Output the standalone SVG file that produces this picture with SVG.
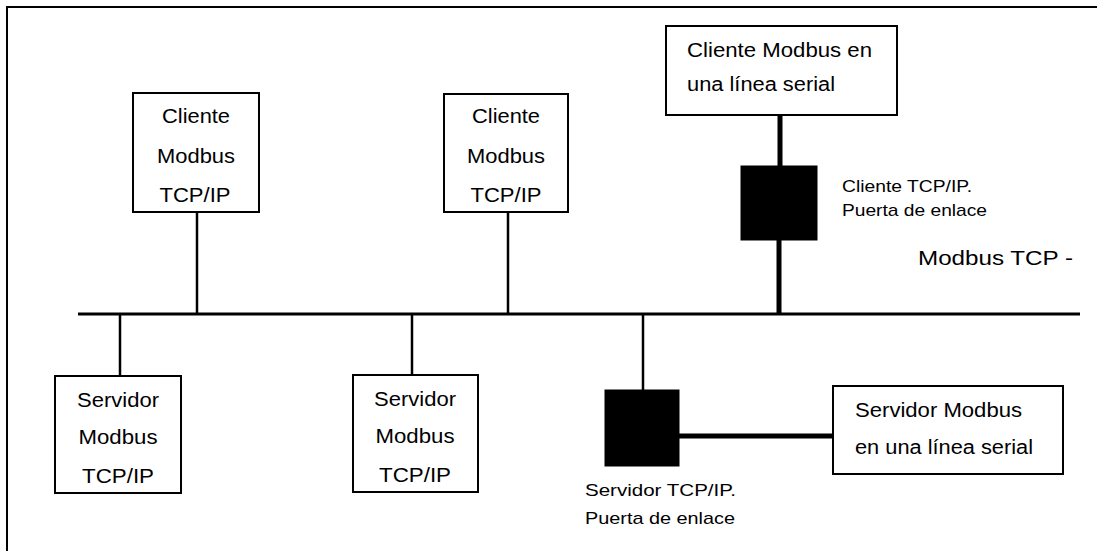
<svg xmlns="http://www.w3.org/2000/svg" width="1097" height="551" viewBox="0 0 1097 551">
  <defs>
    <style>
      .frame { stroke: #000; stroke-width: 2; fill: none; }
      .box { fill: #fff; stroke: #000; stroke-width: 2; }
      .gw { fill: #000; stroke: #000; stroke-width: 1; }
      .thin { stroke: #000; stroke-width: 2.5; fill: none; }
      .thick { stroke: #000; stroke-width: 5; fill: none; }
      .bus { stroke: #000; stroke-width: 3; fill: none; }
      text { font-family: "Liberation Sans", Arial, sans-serif; fill: #000; }
      .t { font-size: 19.5px; }
      .s { font-size: 17px; }
      .c { text-anchor: middle; }
    </style>
  </defs>

  <rect x="0" y="0" width="1097" height="551" fill="#fff"/>

  <!-- page frame: top and left edges -->
  <path class="frame" d="M7,551 V7 H1097"/>

  <!-- connectors -->
  <g id="connectors">
    <line class="bus" x1="78" y1="314" x2="1080" y2="314"/>
    <line class="thin" x1="197" y1="212" x2="197" y2="314"/>
    <line class="thin" x1="508" y1="212" x2="508" y2="314"/>
    <line class="thick" x1="780" y1="115" x2="780" y2="166"/>
    <line class="thick" x1="779" y1="240" x2="779" y2="314"/>
    <line class="thin" x1="120" y1="314" x2="120" y2="376"/>
    <line class="thin" x1="412" y1="314" x2="412" y2="375"/>
    <line class="thin" x1="643" y1="314" x2="643" y2="390"/>
    <line class="thick" x1="679" y1="436" x2="833" y2="436"/>
  </g>

  <g id="bus-label">
    <text class="t" x="918" y="265" textLength="155" lengthAdjust="spacingAndGlyphs">Modbus TCP -</text>
  </g>

  <g id="client1">
    <rect class="box" x="133" y="93" width="126" height="119"/>
    <text class="t c" x="196" y="123" textLength="68" lengthAdjust="spacingAndGlyphs">Cliente</text>
    <text class="t c" x="196" y="163" textLength="78" lengthAdjust="spacingAndGlyphs">Modbus</text>
    <text class="t c" x="195" y="202" textLength="71" lengthAdjust="spacingAndGlyphs">TCP/IP</text>
  </g>

  <g id="client2">
    <rect class="box" x="444" y="94" width="124" height="118"/>
    <text class="t c" x="506" y="123" textLength="68" lengthAdjust="spacingAndGlyphs">Cliente</text>
    <text class="t c" x="506" y="163" textLength="78" lengthAdjust="spacingAndGlyphs">Modbus</text>
    <text class="t c" x="506" y="202" textLength="71" lengthAdjust="spacingAndGlyphs">TCP/IP</text>
  </g>

  <g id="serial-client">
    <rect class="box" x="666" y="26" width="231" height="89"/>
    <text class="t" x="687" y="57" textLength="185" lengthAdjust="spacingAndGlyphs">Cliente Modbus en</text>
    <text class="t" x="687" y="91" textLength="148" lengthAdjust="spacingAndGlyphs">una línea serial</text>
  </g>

  <g id="client-gateway">
    <rect class="gw" x="741" y="166" width="76" height="74"/>
    <text class="s" x="842" y="192" textLength="130" lengthAdjust="spacingAndGlyphs">Cliente TCP/IP.</text>
    <text class="s" x="842" y="216" textLength="145" lengthAdjust="spacingAndGlyphs">Puerta de enlace</text>
  </g>

  <g id="server1">
    <rect class="box" x="55" y="376" width="126" height="117"/>
    <text class="t c" x="118" y="407" textLength="82" lengthAdjust="spacingAndGlyphs">Servidor</text>
    <text class="t c" x="118" y="444" textLength="79" lengthAdjust="spacingAndGlyphs">Modbus</text>
    <text class="t c" x="118" y="483" textLength="72" lengthAdjust="spacingAndGlyphs">TCP/IP</text>
  </g>

  <g id="server2">
    <rect class="box" x="353" y="375" width="125" height="117"/>
    <text class="t c" x="415" y="406" textLength="82" lengthAdjust="spacingAndGlyphs">Servidor</text>
    <text class="t c" x="415" y="443" textLength="79" lengthAdjust="spacingAndGlyphs">Modbus</text>
    <text class="t c" x="415" y="482" textLength="72" lengthAdjust="spacingAndGlyphs">TCP/IP</text>
  </g>

  <g id="server-gateway">
    <rect class="gw" x="605" y="390" width="74" height="76"/>
    <text class="s" x="585" y="496" textLength="151" lengthAdjust="spacingAndGlyphs">Servidor  TCP/IP.</text>
    <text class="s" x="585" y="524" textLength="150" lengthAdjust="spacingAndGlyphs">Puerta de enlace</text>
  </g>

  <g id="serial-server">
    <rect class="box" x="833" y="386" width="230" height="88"/>
    <text class="t" x="855" y="417" textLength="167" lengthAdjust="spacingAndGlyphs">Servidor Modbus</text>
    <text class="t" x="855" y="454" textLength="178" lengthAdjust="spacingAndGlyphs">en una línea serial</text>
  </g>
</svg>
